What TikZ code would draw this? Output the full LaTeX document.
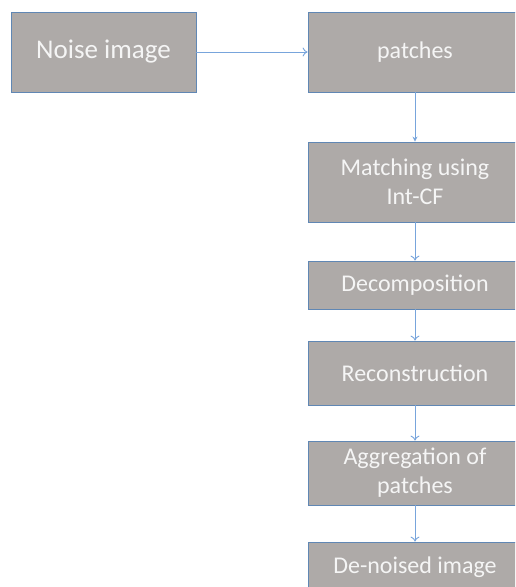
\documentclass[tikz,border=0pt]{standalone}
\usepackage{fontspec}
\setmainfont{Carlito}
\usetikzlibrary{arrows.meta}
\definecolor{boxfill}{RGB}{174,170,168}
\definecolor{boxline}{RGB}{96,135,180}
\definecolor{flow}{RGB}{120,165,220}
\definecolor{boxtext}{RGB}{245,245,245}
\tikzset{
  stagebox/.style={draw=boxline, line width=0.8pt, fill=boxfill, text=boxtext,
    inner sep=0pt, align=center, font=\fontsize{24}{29}\selectfont},
  flowarrow/.style={draw=flow, line width=0.9pt, -{To[length=5pt,width=9pt]}},
  flowsolid/.style={draw=flow, line width=0.9pt, -{Stealth[length=5pt,width=5pt]}}
}
\begin{document}
\begin{tikzpicture}[x=1pt,y=-1pt]
  \useasboundingbox (0,0) rectangle (515,587);
  \clip (0,0) rectangle (515,587);
  \node[stagebox, minimum width=185pt, minimum height=80pt, font=\fontsize{27}{32}\selectfont] (noise) at (103.5,52) {Noise image};
  \node[stagebox, minimum width=214pt, minimum height=80pt] (patches) at (415,52) {patches};
  \node[stagebox, minimum width=214pt, minimum height=80pt] (match) at (415,182) {Matching using\\Int-CF};
  \node[stagebox, minimum width=214pt, minimum height=48pt] (decomp) at (415,285) {Decomposition};
  \node[stagebox, minimum width=214pt, minimum height=64pt] (recon) at (415,373) {Reconstruction};
  \node[stagebox, minimum width=214pt, minimum height=64pt] (aggr) at (415,473) {Aggregation of\\patches};
  \node[stagebox, minimum width=214pt, minimum height=50pt] (denoised) at (415,567) {De-noised image};
  \draw[flowarrow] (noise.east) -- (patches.west);
  \draw[flowsolid] (patches.south) -- (match.north);
  \draw[flowarrow] (match.south) -- (decomp.north);
  \draw[flowarrow] (decomp.south) -- (recon.north);
  \draw[flowarrow] (recon.south) -- (aggr.north);
  \draw[flowarrow] (aggr.south) -- (denoised.north);
\end{tikzpicture}
\end{document}
